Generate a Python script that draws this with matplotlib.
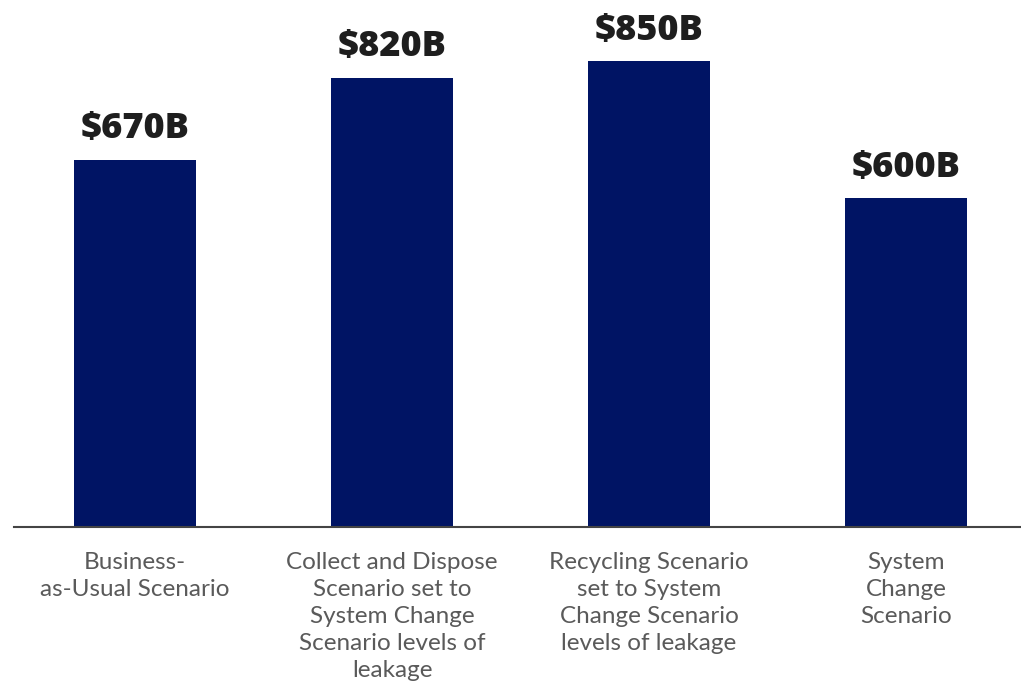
import matplotlib.pyplot as plt
import numpy as np

# chart values
scenarios = ['Business-\nas-Usual Scenario',
             'Collect and Dispose\nScenario set to\nSystem Change\nScenario levels of\nleakage',
             'Recycling Scenario\nset to System\nChange Scenario\nlevels of leakage',
             'System\nChange\nScenario']
values = [670, 820, 850, 600]
value_labels = ['$670B', '$820B', '$850B', '$600B']

bar_color = '#001464'

fig = plt.figure(figsize=(10.21, 6.87), dpi=100)
ax = fig.add_axes([14 / 1021, 1 - 527 / 687, 1 - 14 / 1021, 527 / 687])

x = np.arange(len(values))
bars = ax.bar(x, values, width=0.475, color=bar_color)

for xi, v, lab in zip(x, values, value_labels):
    ax.annotate(lab, (xi, v), xytext=(0, 9), textcoords='offset points',
                ha='center', va='bottom', fontsize=26, fontweight='heavy',
                family=['Open Sans', 'DejaVu Sans'], color='#1e1e1e')

ax.set_xlim(-0.471, 3.447)
ax.set_ylim(0, 962)
ax.set_xticks(x)
ax.set_xticklabels(scenarios, fontsize=17.5, color='#5a5a5a',
                   family=['Lato', 'DejaVu Sans'], fontweight='normal',
                   linespacing=1.35)
ax.tick_params(axis='x', length=0, pad=18)
ax.set_yticks([])
for side in ['top', 'right', 'left']:
    ax.spines[side].set_visible(False)
ax.spines['bottom'].set_color('#444444')
ax.spines['bottom'].set_linewidth(1.5)

fig.savefig('out.png', dpi=100)
